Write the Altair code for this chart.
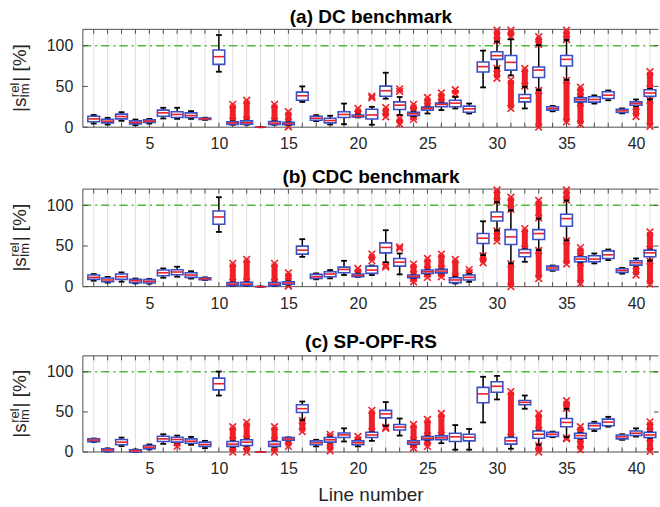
import altair as alt
import pandas as pd

LINES = list(range(1, 42))
X_LABELS = [5, 10, 15, 20, 25, 30, 35, 40]
Y_TICKS = [0, 50, 100]
TITLES = ["(a) DC benchmark", "(b) CDC benchmark", "(c) SP-OPF-RS"]
X_TITLE = "Line number"

# ---- (a) DC benchmark ----
A_Q1 = [6.6, 5.3, 10.2, 4.1, 5.7, 13.5, 11.9, 11.9, 9.4, 77, 3.5, 3.7, 0, 3.3, 3, 33, 8.6, 5.3, 11.9, 12.5,
        10, 38, 21.7, 14.3, 20.9, 25, 25, 18.4, 67.6, 83.2, 70, 31, 61, 20.9, 75, 31, 30.7, 35.2, 18, 27, 38]
A_MED = [10.2, 7.4, 13.1, 5.7, 7.4, 17.6, 15.6, 14.3, 10.2, 86.5, 5, 5.5, 0, 5, 4.5, 38.5, 11, 8.2, 15.6, 13.5,
         15, 44.7, 27, 16.4, 23, 27.9, 29.5, 22.5, 74.2, 87.7, 79.5, 35.7, 70, 23, 83.2, 33.6, 34, 39.3, 20, 29, 42]
A_Q3 = [13.5, 9.8, 16, 7.8, 9, 20.9, 18.9, 17.6, 11.2, 94.7, 6.5, 7.8, 0, 7, 6, 43, 13.5, 11, 18.9, 15,
        22, 50.4, 31, 18.4, 24.6, 29.5, 33, 25.8, 80, 92.6, 88, 40, 73.8, 25, 88, 36, 37.3, 43.4, 22, 31, 46]
A_WLO = [4.5, 3.3, 7.8, 2.5, 4.5, 10.7, 10.2, 10.2, 9, 68, 3, 3, 0, 3, 2.5, 31, 7.4, 3.3, 3.7, 12,
         3, 35, 15, 13.5, 16.8, 21, 23, 16.8, 48.8, 72.5, 63.5, 23, 45.5, 19.5, 58, 30.5, 29, 33, 17, 26, 34]
A_WHI = [15, 11.5, 18.4, 9.4, 10.2, 23.8, 23.8, 19.7, 11.6, 113, 7, 8, 0, 7.3, 6.3, 50, 14.8, 14, 29, 15.5,
         25, 66.8, 37, 19, 25, 30, 37, 29, 93.9, 105, 107.8, 49.6, 100.8, 26, 107, 36.5, 39, 45, 23, 34, 47]
A_OUT = [(11, 7.5, 28), (12, 8.5, 33), (14, 7.5, 28), (15, 6.5, 19), (15, 0.3, 0.6), (20, 16, 23),
         (21, 36, 38), (22, 12.7, 24), (23, 44, 47), (23, 4, 11), (24, 19.5, 28), (24, 9.5, 13),
         (25, 25.5, 36.5), (26, 30.5, 42), (27, 41, 46), (30, 106, 119), (30, 60, 72), (31, 111, 119),
         (31, 23, 58), (32, 50.5, 72), (33, 101.5, 111), (33, 0, 45), (35, 107.5, 119), (35, 6.5, 57.5),
         (36, 37, 49), (36, 3.7, 30), (40, 13, 25.5), (41, 47.5, 68), (41, 1, 33)]

# ---- (b) CDC benchmark ----
B_Q1 = [9, 6.1, 9, 4.9, 4.5, 13.5, 14.7, 11.4, 8.6, 76.7, 1.2, 1.2, 0, 1.2, 2.9, 40, 10.2, 12.2, 17.1, 12.2,
        16.3, 41.6, 25.3, 11, 16.3, 17, 4.9, 8.2, 53, 80.8, 51.8, 36.7, 58, 20.4, 74.3, 30.6, 30.6, 34.7, 17.6, 26.5, 36.7]
B_MED = [11.4, 8.2, 12.2, 7.3, 6.5, 17.1, 18, 14.3, 9.8, 85.7, 3, 3, 0, 3, 4.5, 44.9, 12.2, 15.5, 21.2, 13.9,
         20.4, 48.2, 30.2, 12.7, 18.4, 19.2, 8.2, 11.4, 59.6, 86, 61.2, 41.6, 65.3, 22.9, 83.7, 33.9, 33.9, 39.2, 20, 29.4, 41.6]
B_Q3 = [14.3, 10.6, 15.5, 9, 8.6, 20.4, 20.8, 17.1, 11, 93, 4.9, 5.3, 0, 4.9, 6.1, 49.8, 15.1, 18.4, 24, 15.5,
        25.3, 53.9, 34.7, 14.3, 20.4, 21.2, 11, 14.3, 65.3, 91.8, 70.2, 45.7, 70.2, 25.3, 89, 36.7, 38, 44, 22, 31.8, 44.9]
B_WLO = [7.3, 5, 6.1, 4, 3.7, 11, 12.2, 10, 8.2, 67.3, 0.8, 0.8, 0, 0.8, 2.5, 36.7, 9, 10.2, 14.3, 12,
         14.3, 30, 15.1, 10.5, 15.8, 16.5, 4, 6, 38.8, 69, 28.6, 30.6, 45, 19.5, 57, 30, 28.6, 32.7, 16, 26, 32]
B_WHI = [15.5, 12, 17.5, 10, 9.4, 22.4, 24.5, 19, 11.4, 110, 5, 5.5, 0, 5, 6.3, 58.4, 16.3, 20.4, 31.8, 16,
         26, 69.4, 40.8, 14.5, 20.8, 21.5, 11.8, 15.5, 80.4, 104, 94, 46, 83.7, 26, 106, 37, 40.8, 45.7, 23, 34.7, 45.5]
B_OUT = [(11, 5.5, 28.6), (12, 6, 33.5), (14, 5.5, 28.6), (15, 6.5, 17), (15, 0.8, 1.2), (20, 16.3, 22.4),
         (21, 32, 40), (22, 24, 26), (23, 47, 49), (24, 15, 27.8), (24, 6, 10.5), (25, 21, 34.7),
         (25, 11.4, 15.8), (26, 22, 40), (26, 12.2, 16.5), (27, 12.2, 33.5), (28, 17, 21), (29, 29.4, 38),
         (30, 105, 119), (30, 56, 68.5), (31, 95, 110), (31, 0, 28), (32, 46.5, 71.4), (33, 84.5, 106),
         (33, 10, 44.5), (35, 106.5, 119), (35, 27.8, 56.5), (36, 37.5, 48), (36, 4, 29.5), (40, 14.3, 25.5),
         (41, 46, 67.3), (41, 3.3, 31.5)]

# ---- (c) SP-OPF-RS ----
C_Q1 = [13, 0.8, 9, 0, 4.1, 13.1, 12.3, 11, 7, 77.5, 7, 8.2, 0, 7, 14.8, 49.2, 9, 12.3, 18, 9,
        18, 42.6, 27.5, 9.8, 15.2, 15.2, 13.1, 13.9, 61.5, 74.6, 9.8, 59, 17.2, 19.3, 31.6, 17.2, 28.7, 32.8, 16.4, 20.5, 18]
C_MED = [14.8, 2.5, 12.3, 1.6, 6.1, 16.4, 15.6, 13.5, 9.4, 85.2, 9.8, 12.3, 0, 9.8, 16.4, 54.1, 11.5, 15.2, 21.3, 11.5,
         21.3, 47.5, 31.1, 11.9, 17.2, 17.6, 18.9, 18.4, 72.5, 82, 13.9, 61.9, 22.1, 22.1, 36.9, 20.5, 32.8, 37.3, 18.9, 23.4, 21.3]
C_Q3 = [16.4, 4.1, 15.6, 2.9, 8.2, 19.7, 18.4, 16.4, 12.3, 92.2, 13.1, 15.2, 0, 13.1, 18, 59, 13.9, 18, 23.8, 13.9,
        24.6, 52, 34.4, 13.9, 19.3, 20.1, 23.4, 22.1, 80.7, 87.7, 18, 64.3, 26.2, 24.6, 41.8, 23.4, 35.7, 41, 21.3, 26.2, 24.6]
C_WLO = [12.5, 0.5, 7.4, 0, 3.3, 10.2, 12, 9, 4.9, 70.5, 6.5, 7.8, 0, 6.5, 14.5, 39.8, 7, 12, 13.1, 7,
         13.9, 32.8, 20.5, 9.5, 14.8, 11, 2.9, 2.9, 36.9, 65.6, 4.1, 54, 9, 18.5, 18.5, 16.8, 26.2, 31.6, 15.2, 19.3, 17.5]
C_WHI = [16.8, 4.5, 18, 3.2, 9.4, 22.1, 20.5, 18.9, 13.9, 100.4, 13.5, 15.6, 0, 13.5, 18.3, 63, 15.2, 18.3, 29.5, 14.2,
         25, 62.3, 41.8, 14.2, 19.6, 20.4, 33.6, 28.7, 93.9, 95, 18.3, 70.5, 26.5, 25.4, 54, 23.8, 37.7, 43.9, 22.1, 29.5, 25]
C_OUT = [(7, 7, 11.8), (11, 14, 31.6), (11, 0, 6), (12, 16, 37), (12, 0, 7.4), (14, 14, 31.6), (14, 0, 6),
         (15, 7, 14), (16, 25.4, 39), (18, 18.8, 22), (18, 1.6, 11.5), (20, 14.5, 19.3), (21, 25.5, 52),
         (22, 29.5, 31), (24, 14.5, 34.4), (24, 4.9, 9), (25, 20, 40.6), (25, 7, 14.5), (26, 21, 48),
         (31, 18.8, 75.4), (33, 27, 48), (33, 0, 8), (35, 54.5, 64), (35, 16.5, 17.5), (36, 24.2, 31.6),
         (36, 2.9, 16.4), (41, 25.4, 37.7), (41, 0.8, 17.5)]

BLUE = "#3d4fc6"
RED = "#ee1f27"
GREEN = "#4fb83a"
GRID = "#dedede"
FRAME = "#4d4d4d"
FONT = "Liberation Sans"
W = 577
X_DOM = [0.22, 41.65]
Y_DOM = [0, 120]
XPATH = "M-1,-1L1,1M1,-1L-1,1"

XAXIS = alt.Axis(values=X_LABELS, grid=False, ticks=False, tickSize=0, domain=False,
                 labelFontSize=16, labelPadding=21.5, labelBaseline="alphabetic",
                 labelColor="#262626", labelFont=FONT, title=None, labelFlush=False)
YAXIS = alt.Axis(values=Y_TICKS, grid=False, ticks=False, tickSize=0, domain=False,
                 labelFontSize=16, labelPadding=10, labelColor="#262626", labelFont=FONT,
                 title=None)
XS = alt.Scale(domain=X_DOM, nice=False, zero=False)
YS = alt.Scale(domain=Y_DOM, nice=False, zero=False)


def X(f):
    return alt.X(f, scale=XS, axis=XAXIS)


def Y(f):
    return alt.Y(f, scale=YS, axis=YAXIS)


def panel(title, q1, med, q3, wlo, whi, outs, H, title_y, top_ext, bot_ext, show_xtitle):
    box = pd.DataFrame({"line": LINES, "q1": q1, "med": med, "q3": q3, "wlo": wlo, "whi": whi})
    box["xl"] = box["line"] - 0.42
    box["xr"] = box["line"] + 0.42
    box["ml"] = box["line"] - 0.38
    box["mr"] = box["line"] + 0.38
    box["cl"] = box["line"] - 0.21
    box["cr"] = box["line"] + 0.21
    od = pd.DataFrame(outs, columns=["line", "lo", "hi"])
    oends = pd.concat([od[["line", "lo"]].rename(columns={"lo": "v"}),
                       od[["line", "hi"]].rename(columns={"hi": "v"})])
    lines_df = pd.DataFrame({"line": LINES})
    one = pd.DataFrame({"k": [0]})

    layers = []
    # vertical grid
    layers.append(alt.Chart(lines_df).mark_rule(color=GRID, strokeWidth=1).encode(
        x=X("line:Q"), y=alt.value(0), y2=alt.value(H)))
    # reference line at 100 %
    layers.append(alt.Chart(pd.DataFrame({"v": [100]})).mark_rule(
        color=GREEN, strokeWidth=1.5, strokeDash=[8.3, 4, 2, 4]).encode(
        y=Y("v:Q"), x=alt.value(0), x2=alt.value(W)))
    # x ticks (inward, top & bottom)
    layers.append(alt.Chart(lines_df).mark_rule(color=FRAME, strokeWidth=1).encode(
        x=X("line:Q"), y=alt.value(0), y2=alt.value(4.5)))
    layers.append(alt.Chart(lines_df).mark_rule(color=FRAME, strokeWidth=1).encode(
        x=X("line:Q"), y=alt.value(H - 4.5), y2=alt.value(H)))
    # y ticks (inward, left & right)
    ytdf = pd.DataFrame({"v": Y_TICKS})
    layers.append(alt.Chart(ytdf).mark_rule(color=FRAME, strokeWidth=1).encode(
        y=Y("v:Q"), x=alt.value(0), x2=alt.value(5)))
    layers.append(alt.Chart(ytdf).mark_rule(color=FRAME, strokeWidth=1).encode(
        y=Y("v:Q"), x=alt.value(W - 5), x2=alt.value(W - 0.5)))
    # frame (left, top, bottom)
    layers.append(alt.Chart(one).mark_rule(color=FRAME, strokeWidth=1).encode(
        x=alt.value(0), y=alt.value(0), y2=alt.value(H)))
    layers.append(alt.Chart(one).mark_rule(color=FRAME, strokeWidth=1).encode(
        x=alt.value(0), x2=alt.value(W - 0.5), y=alt.value(0)))
    layers.append(alt.Chart(one).mark_rule(color=FRAME, strokeWidth=1).encode(
        x=alt.value(0), x2=alt.value(W - 0.5), y=alt.value(H)))
    # outliers
    layers.append(alt.Chart(od).mark_rule(color=RED, strokeWidth=6).encode(
        x=X("line:Q"), y=Y("lo:Q"), y2=alt.Y2("hi:Q")))
    layers.append(alt.Chart(oends).mark_point(shape=XPATH, size=45, filled=False, color=RED,
                                              strokeWidth=1.6, opacity=1).encode(
        x=X("line:Q"), y=Y("v:Q")))
    # whiskers
    layers.append(alt.Chart(box).mark_rule(color="black", strokeWidth=1.5).encode(
        x=X("line:Q"), y=Y("q3:Q"), y2=alt.Y2("whi:Q")))
    layers.append(alt.Chart(box).mark_rule(color="black", strokeWidth=1.5).encode(
        x=X("line:Q"), y=Y("wlo:Q"), y2=alt.Y2("q1:Q")))
    layers.append(alt.Chart(box).mark_rule(color="black", strokeWidth=1.8).encode(
        x=X("cl:Q"), x2=alt.X2("cr:Q"), y=Y("whi:Q")))
    layers.append(alt.Chart(box).mark_rule(color="black", strokeWidth=1.8).encode(
        x=X("cl:Q"), x2=alt.X2("cr:Q"), y=Y("wlo:Q")))
    # boxes and medians
    layers.append(alt.Chart(box).mark_rect(fill="white", stroke=BLUE, strokeWidth=1.6).encode(
        x=X("xl:Q"), x2=alt.X2("xr:Q"), y=Y("q1:Q"), y2=alt.Y2("q3:Q")))
    layers.append(alt.Chart(box).mark_rule(color=RED, strokeWidth=1.6).encode(
        x=X("ml:Q"), x2=alt.X2("mr:Q"), y=Y("med:Q")))
    # title
    layers.append(alt.Chart(one).mark_text(text=title, font=FONT, fontSize=19, fontWeight="bold",
                                           align="center", baseline="alphabetic", color="black").encode(
        x=alt.value(W / 2), y=alt.value(title_y)))
    # y-axis label |s_lm^rel| [%]
    y0 = H / 2 + 33.8
    ylab = [("|s", 19, -56.5, y0), ("rel", 13, -63.5, y0 - 14.9), ("lm", 13, -53.5, y0 - 14.9),
            ("| [%]", 19, -56.5, y0 - 30.3)]
    for t, fs, xx, yy in ylab:
        layers.append(alt.Chart(one).mark_text(text=t, font=FONT, fontSize=fs, angle=270, align="left",
                                               baseline="alphabetic", color="#262626").encode(
            x=alt.value(xx), y=alt.value(yy)))
    if show_xtitle:
        layers.append(alt.Chart(one).mark_text(text=X_TITLE, font=FONT, fontSize=19, align="center",
                                               baseline="alphabetic", color="#262626").encode(
            x=alt.value(W / 2), y=alt.value(H + 49)))
    # white bound keeper to fix the panel extent
    layers.append(alt.Chart(one).mark_rule(color="white", strokeWidth=1).encode(
        x=alt.value(-82.5), y=alt.value(top_ext), y2=alt.value(bot_ext)))
    return alt.layer(*layers).properties(width=W, height=H)


pa = panel(TITLES[0], A_Q1, A_MED, A_Q3, A_WLO, A_WHI, A_OUT, 98, -6.3, -28.5, 130.5, False)
pb = panel(TITLES[1], B_Q1, B_MED, B_Q3, B_WLO, B_WHI, B_OUT, 97.7, -6.6, -28.5, 130.5, False)
pc = panel(TITLES[2], C_Q1, C_MED, C_Q3, C_WLO, C_WHI, C_OUT, 96.3, -8.3, -35.5, 149.5, True)

chart = alt.vconcat(pa, pb, pc, spacing=0).properties(
    padding=0, background="white"
).configure_view(stroke=None)

chart.save("out.html", embed_options={"renderer": "svg", "actions": False})
